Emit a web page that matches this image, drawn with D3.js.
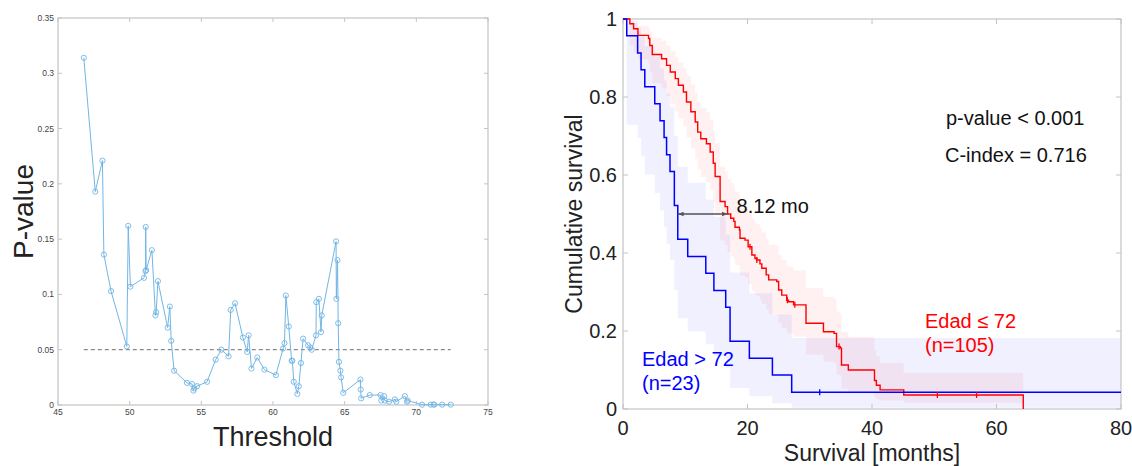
<!DOCTYPE html>
<html lang="en">
<head>
  <meta charset="UTF-8" />
  <title>Threshold P-value and survival curves</title>
  <script src="https://d3js.org/d3.v7.min.js"></script>
  <style>
    body { margin: 0; background: #fff; }
    svg { display: block; font-family: "Liberation Sans", Arial, Helvetica, sans-serif; }
  </style>
</head>
<body>
  <svg id="chart" width="1132" height="466"></svg>

  <script>
    // ---- left panel: p-value by threshold ----
    const thresholds = [46.8, 47.6, 48.1, 48.2, 48.7, 49.8, 49.9, 50.05, 51.0, 51.1, 51.12, 51.15, 51.55, 51.8, 51.85, 51.97,
      52.65, 52.8, 52.9, 53.1, 54.0, 54.35, 54.45, 54.5, 54.7, 55.4, 56.0, 56.4, 56.9, 57.05, 57.35, 57.9, 58.2, 58.3,
      58.5, 58.9, 59.4, 60.2, 60.7, 60.8, 60.9, 61.1, 61.3, 61.35, 61.45, 61.7, 61.8, 61.95, 62.1, 62.45, 62.6, 62.7,
      63.0, 63.02, 63.2, 63.35, 63.4, 64.4, 64.42, 64.5, 64.55, 64.6, 64.7, 64.75, 64.9, 66.1, 66.12, 66.15, 66.75,
      67.5, 67.55, 67.75, 67.8, 68.1, 68.5, 68.6, 69.2, 69.35, 69.4, 70.4, 71.0, 71.2, 71.25, 71.8, 72.4];
    const pValues = [0.314, 0.193, 0.221, 0.136, 0.103, 0.053, 0.162, 0.107, 0.115, 0.121, 0.161, 0.122, 0.140, 0.081, 0.084, 0.112,
      0.070, 0.089, 0.058, 0.031, 0.020, 0.019, 0.013, 0.015, 0.017, 0.021, 0.041, 0.050, 0.044, 0.086, 0.092, 0.061, 0.048, 0.063,
      0.033, 0.043, 0.032, 0.027, 0.051, 0.056, 0.099, 0.071, 0.040, 0.040, 0.021, 0.010, 0.017, 0.038, 0.060, 0.054, 0.052, 0.050,
      0.063, 0.093, 0.096, 0.066, 0.081, 0.148, 0.096, 0.131, 0.074, 0.039, 0.031, 0.025, 0.011, 0.023, 0.014, 0.006, 0.009,
      0.009, 0.004, 0.008, 0.004, 0.003, 0.005, 0.003, 0.008, 0.003, 0.004, 0.0003, 0.0003, 0.0005, 0.0003, 0.0003, 0.0003];
    const cutoff = 0.05;
    const leftXTicks = [45, 50, 55, 60, 65, 70, 75];
    const leftYTicks = [0, 0.05, 0.1, 0.15, 0.2, 0.25, 0.3, 0.35];

    // ---- right panel: Kaplan-Meier curves ----
    const blueTime = [0, 0.6, 2.35, 2.9, 3.5, 5.1, 5.95, 6.6, 7.0, 7.55, 8.25, 8.8, 10.4, 13.3, 14.6, 16.5, 17.2, 20.3, 24.0, 27.1, 80];
    const blueSurv = [1, 0.957, 0.913, 0.870, 0.826, 0.783, 0.739, 0.696, 0.652, 0.609, 0.522, 0.435, 0.391, 0.348, 0.304, 0.261, 0.174, 0.130, 0.087, 0.043, 0.043];
    const blueLow  = [1, 0.729, 0.695, 0.648, 0.601, 0.554, 0.509, 0.466, 0.423, 0.383, 0.305, 0.233, 0.199, 0.166, 0.135, 0.106, 0.054, 0.033, 0.015, 0.003, 0.003];
    const blueUp   = [1, 0.994, 0.978, 0.956, 0.931, 0.903, 0.873, 0.842, 0.809, 0.774, 0.700, 0.621, 0.580, 0.537, 0.493, 0.447, 0.350, 0.297, 0.242, 0.182, 0.182];
    const blueCensor = [31.6];

    const redTime = [0, 1.1, 1.7, 2.4, 4.1, 4.3, 4.7, 6.2, 7.0, 7.6, 8.4, 8.9, 9.7, 10.2, 10.9, 11.6, 12.0, 12.5, 13.4, 14.0,
      14.5, 14.8, 15.6, 16.4, 16.8, 17.3, 17.8, 18.0, 18.7, 18.8, 19.6, 20.1, 20.7, 21.2, 21.5, 22.0, 22.3, 23.0, 23.4,
      24.7, 25.0, 25.5, 26.3, 26.6, 27.4, 29.4, 32.2, 33.9, 34.3, 34.9, 35.1, 36.2, 40.4, 40.7, 41.3, 45.1, 64.3];
    const redSurv = [1, 0.988, 0.975, 0.958, 0.950, 0.932, 0.909, 0.898, 0.881, 0.864, 0.847, 0.830, 0.813, 0.787, 0.762, 0.736, 0.710, 0.693, 0.680, 0.659,
      0.630, 0.596, 0.532, 0.519, 0.500, 0.489, 0.481, 0.466, 0.459, 0.438, 0.433, 0.416, 0.395, 0.386, 0.382, 0.372, 0.361, 0.344, 0.331,
      0.327, 0.305, 0.292, 0.279, 0.275, 0.267, 0.220, 0.198, 0.194, 0.160, 0.156, 0.113, 0.100, 0.073, 0.061, 0.049, 0.036, 0];
    const redLow = [1, 0.933, 0.915, 0.897, 0.886, 0.863, 0.835, 0.822, 0.802, 0.783, 0.763, 0.744, 0.725, 0.696, 0.668, 0.641, 0.614, 0.595, 0.581, 0.560,
      0.530, 0.496, 0.432, 0.420, 0.402, 0.391, 0.383, 0.369, 0.362, 0.342, 0.337, 0.320, 0.302, 0.293, 0.290, 0.280, 0.270, 0.255, 0.243,
      0.239, 0.220, 0.208, 0.196, 0.193, 0.185, 0.140, 0.121, 0.118, 0.088, 0.085, 0.052, 0.044, 0.030, 0.025, 0.022, 0.016, 0.016];
    const redUp = [1, 0.998, 0.990, 0.983, 0.979, 0.967, 0.951, 0.944, 0.932, 0.917, 0.903, 0.889, 0.875, 0.854, 0.832, 0.810, 0.787, 0.772, 0.761, 0.741,
      0.714, 0.683, 0.622, 0.609, 0.590, 0.580, 0.572, 0.557, 0.550, 0.530, 0.525, 0.509, 0.488, 0.479, 0.474, 0.464, 0.453, 0.435, 0.422,
      0.417, 0.395, 0.382, 0.368, 0.364, 0.356, 0.310, 0.288, 0.283, 0.250, 0.245, 0.198, 0.185, 0.150, 0.135, 0.118, 0.092, 0.092];
    const redCensor = [20.4, 21.5, 26.4, 27.6, 34.7, 50.5, 56.8];

    const rightXTicks = [0, 20, 40, 60, 80];
    const rightYTicks = [0, 0.2, 0.4, 0.6, 0.8, 1];
    const medianLabel = "8.12 mo";

    const svg = d3.select("#chart");
    const axisGray = "#c4c4c4";

    // ================= left panel =================
    const lx = d3.scaleLinear().domain([45, 75]).range([58, 488]);
    const ly = d3.scaleLinear().domain([0, 0.35]).range([405, 18]);
    const left = svg.append("g");

    left.append("rect")
      .attr("x", lx(45)).attr("y", ly(0.35))
      .attr("width", lx(75) - lx(45)).attr("height", ly(0) - ly(0.35))
      .attr("fill", "none").attr("stroke", axisGray).attr("stroke-width", 1.2);

    leftXTicks.forEach(t => {
      left.append("line").attr("x1", lx(t)).attr("x2", lx(t)).attr("y1", ly(0)).attr("y2", ly(0) - 4).attr("stroke", axisGray);
      left.append("line").attr("x1", lx(t)).attr("x2", lx(t)).attr("y1", ly(0.35)).attr("y2", ly(0.35) + 4).attr("stroke", axisGray);
      left.append("text").attr("x", lx(t)).attr("y", ly(0) + 10).attr("text-anchor", "middle")
        .attr("font-size", 8.5).attr("fill", "#444").text(t);
    });
    leftYTicks.forEach(t => {
      left.append("line").attr("x1", lx(45)).attr("x2", lx(45) + 4).attr("y1", ly(t)).attr("y2", ly(t)).attr("stroke", axisGray);
      left.append("line").attr("x1", lx(75)).attr("x2", lx(75) - 4).attr("y1", ly(t)).attr("y2", ly(t)).attr("stroke", axisGray);
      left.append("text").attr("x", lx(45) - 4).attr("y", ly(t) + 3).attr("text-anchor", "end")
        .attr("font-size", 8.5).attr("fill", "#444").text(t);
    });

    left.append("line")
      .attr("x1", lx(d3.min(thresholds))).attr("x2", lx(d3.max(thresholds)))
      .attr("y1", ly(cutoff)).attr("y2", ly(cutoff))
      .attr("stroke", "#8a8a8a").attr("stroke-width", 1.2).attr("stroke-dasharray", "4,3");

    const pts = thresholds.map((t, i) => [t, pValues[i]]);
    left.append("path")
      .attr("d", d3.line().x(d => lx(d[0])).y(d => ly(d[1]))(pts))
      .attr("fill", "none").attr("stroke", "#72b6e5").attr("stroke-width", 1);
    left.selectAll("circle").data(pts).enter().append("circle")
      .attr("cx", d => lx(d[0])).attr("cy", d => ly(d[1])).attr("r", 2.6)
      .attr("fill", "none").attr("stroke", "#72b6e5").attr("stroke-width", 0.9);

    left.append("text").attr("transform", `translate(33, ${(ly(0) + ly(0.35)) / 2}) rotate(-90)`)
      .attr("text-anchor", "middle").attr("font-size", 28).attr("fill", "#222").text("P-value");
    left.append("text").attr("x", (lx(45) + lx(75)) / 2).attr("y", 446)
      .attr("text-anchor", "middle").attr("font-size", 27).attr("fill", "#222").text("Threshold");

    // ================= right panel =================
    const rx = d3.scaleLinear().domain([0, 80]).range([623, 1121]);
    const ry = d3.scaleLinear().domain([0, 1]).range([409, 19]);
    const right = svg.append("g");

    const band = d3.area().curve(d3.curveStepAfter)
      .x(d => rx(d.t)).y0(d => ry(d.lo)).y1(d => ry(d.hi));
    const step = d3.line().curve(d3.curveStepAfter).x(d => rx(d.t)).y(d => ry(d.s));

    const blue = blueTime.map((t, i) => ({ t, s: blueSurv[i], lo: blueLow[i], hi: blueUp[i] }));
    const red = redTime.map((t, i) => ({ t, s: redSurv[i], lo: redLow[i], hi: redUp[i] }));

    right.append("path").attr("d", band(blue)).attr("fill", "#0000ff").attr("fill-opacity", 0.06);
    right.append("path").attr("d", band(red)).attr("fill", "#ff0000").attr("fill-opacity", 0.055);

    right.append("rect")
      .attr("x", rx(0)).attr("y", ry(1)).attr("width", rx(80) - rx(0)).attr("height", ry(0) - ry(1))
      .attr("fill", "none").attr("stroke", axisGray).attr("stroke-width", 1.2);

    rightXTicks.forEach(t => {
      right.append("line").attr("x1", rx(t)).attr("x2", rx(t)).attr("y1", ry(0)).attr("y2", ry(0) - 5).attr("stroke", axisGray);
      right.append("line").attr("x1", rx(t)).attr("x2", rx(t)).attr("y1", ry(1)).attr("y2", ry(1) + 5).attr("stroke", axisGray);
      right.append("text").attr("x", rx(t)).attr("y", 435).attr("text-anchor", "middle")
        .attr("font-size", 20).attr("fill", "#222").text(t);
    });
    rightYTicks.forEach(t => {
      right.append("line").attr("x1", rx(0)).attr("x2", rx(0) + 5).attr("y1", ry(t)).attr("y2", ry(t)).attr("stroke", axisGray);
      right.append("line").attr("x1", rx(80)).attr("x2", rx(80) - 5).attr("y1", ry(t)).attr("y2", ry(t)).attr("stroke", axisGray);
      right.append("text").attr("x", rx(0) - 6).attr("y", ry(t) + 7).attr("text-anchor", "end")
        .attr("font-size", 20).attr("fill", "#222").text(t);
    });

    right.append("path").attr("d", step(red)).attr("fill", "none").attr("stroke", "#ff0000").attr("stroke-width", 1.4);
    right.append("path").attr("d", step(blue)).attr("fill", "none").attr("stroke", "#0000ff").attr("stroke-width", 1.5);

    const survAt = (times, surv, t) => surv[d3.bisectRight(times, t) - 1];
    redCensor.forEach(t => {
      const y = ry(survAt(redTime, redSurv, t));
      right.append("line").attr("x1", rx(t)).attr("x2", rx(t)).attr("y1", y - 3).attr("y2", y + 3)
        .attr("stroke", "#ff0000").attr("stroke-width", 1.3);
    });
    blueCensor.forEach(t => {
      const y = ry(survAt(blueTime, blueSurv, t));
      right.append("line").attr("x1", rx(t)).attr("x2", rx(t)).attr("y1", y - 3).attr("y2", y + 3)
        .attr("stroke", "#0000ff").attr("stroke-width", 1.3);
    });

    // median difference arrow
    const blueMed = blueTime[blueSurv.findIndex(s => s <= 0.5)];
    const redMed = redTime[redSurv.findIndex(s => s <= 0.5)];
    const defs = svg.append("defs");
    ["start", "end"].forEach(k => {
      defs.append("marker").attr("id", "arr-" + k).attr("viewBox", "0 0 10 10")
        .attr("refX", 10).attr("refY", 5)
        .attr("markerWidth", 4.5).attr("markerHeight", 4.5).attr("orient", "auto-start-reverse")
        .append("path").attr("d", "M0,1L10,5L0,9z").attr("fill", "#555");
    });
    right.append("line")
      .attr("x1", rx(blueMed)).attr("x2", rx(redMed)).attr("y1", ry(0.5)).attr("y2", ry(0.5))
      .attr("stroke", "#555").attr("stroke-width", 1.3)
      .attr("marker-start", "url(#arr-start)").attr("marker-end", "url(#arr-end)");
    right.append("text").attr("x", rx(redMed) + 9).attr("y", 213).attr("font-size", 20).attr("fill", "#111")
      .text(medianLabel);

    right.append("text").attr("x", 946).attr("y", 125).attr("font-size", 20).attr("fill", "#111").text("p-value < 0.001");
    right.append("text").attr("x", 945).attr("y", 162).attr("font-size", 20).attr("fill", "#111").text("C-index = 0.716");

    right.append("text").attr("x", 642).attr("y", 366).attr("font-size", 20).attr("fill", "#0000ff").text("Edad > 72");
    right.append("text").attr("x", 642).attr("y", 390).attr("font-size", 20).attr("fill", "#0000ff").text("(n=23)");
    right.append("text").attr("x", 925).attr("y", 328).attr("font-size", 20).attr("fill", "#ff0000").text("Edad \u2264 72");
    right.append("text").attr("x", 925).attr("y", 352).attr("font-size", 20).attr("fill", "#ff0000").text("(n=105)");

    right.append("text").attr("transform", `translate(582, ${(ry(0) + ry(1)) / 2}) rotate(-90)`)
      .attr("text-anchor", "middle").attr("font-size", 23).attr("fill", "#222").text("Cumulative survival");
    right.append("text").attr("x", rx(40)).attr("y", 461).attr("text-anchor", "middle")
      .attr("font-size", 23).attr("fill", "#222").text("Survival [months]");
  </script>
</body>
</html>
